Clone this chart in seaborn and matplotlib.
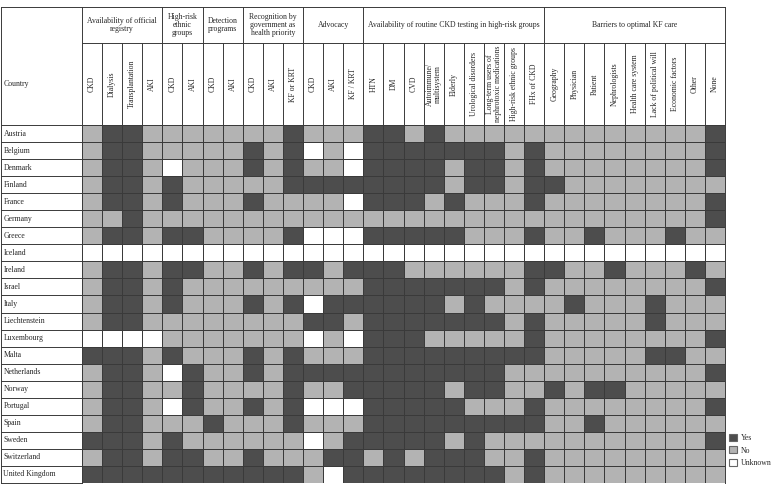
import numpy as np
import pandas as pd
import matplotlib
matplotlib.use("Agg")
import matplotlib.pyplot as plt
from matplotlib.colors import ListedColormap
from matplotlib.patches import Patch
import seaborn as sns

# ---------------- data ----------------
countries = ["Austria", "Belgium", "Denmark", "Finland", "France", "Germany", "Greece",
             "Iceland", "Ireland", "Israel", "Italy", "Liechtenstein", "Luxembourg", "Malta",
             "Netherlands", "Norway", "Portugal", "Spain", "Sweden", "Switzerland",
             "United Kingdom"]

# Y = Yes, N = No, U = Unknown (one string per country, one char per column)
registry = ["NYYN", "NYYN", "NYYN", "NYYN", "NYYN", "NNYN", "NYYN", "UUUU", "NYYN", "NYYN",
            "NYYN", "NYYN", "UUUU", "YYYN", "NYYN", "NYYN", "NYYN", "NYYN", "YYYN", "NYYN",
            "YYYY"]
ethnic = ["NN", "NN", "UN", "YN", "YN", "NN", "YY", "UU", "YY", "YN",
          "YN", "NN", "NN", "YN", "UY", "NY", "UY", "NN", "YN", "YY", "YY"]
detection = ["NN", "NN", "NN", "NN", "NN", "NN", "NN", "UU", "NN", "NN",
             "NN", "NN", "NN", "NN", "NN", "NN", "NN", "YN", "NN", "NN", "YY"]
recognition = ["NNY", "YNY", "YNY", "NNY", "YNN", "NNN", "NNY", "UUU", "YNY", "NNN",
               "YNY", "NNN", "NNN", "YNY", "YNY", "NNY", "YNY", "NNY", "NNN", "YNN", "YYY"]
advocacy = ["NNN", "UNU", "NNU", "YYY", "NNU", "NNN", "UUU", "UUU", "YNY", "NNN",
            "UYY", "YYN", "UNU", "NNN", "YYY", "NNY", "UUU", "NNN", "UNY", "NYY", "NUY"]
testing = ["YYNYNNNNN", "YYYYYYYNY", "YYYYNYYNY", "YYYYNYYNY", "YYYNYNNNY", "NNNNNNNNN",
           "YYYYYNNNY", "UUUUUUUUU", "YYNNNNNNY", "YYYYYYYNY", "YYYYNYNNN", "YYYYYYYNY",
           "YYYNNNNNY", "YYYYYYYYY", "YYYYYYYNN", "YYYYNYYNN", "YYYYYNNNY", "YYYYYYYYY",
           "YYYYNYNNN", "NYNYYYNNY", "YYYYYYYNY"]
barriers = ["NNNNNNNNY", "NNNNNNNNY", "NNNNNNNNY", "YNNNNNNNN", "NNNNNNNNY", "NNNNNNNNY",
            "NNYNNNYNN", "UUUUUUUUU", "YNNYNNNYN", "NNNNNNNNY", "NYNNNYNNN", "NNNNNYNNN",
            "NNNNNNNNY", "NNNNNYYNN", "NNNNNNNNY", "YNYYNNNNN", "NNNNNNNNY", "NNYNNNNNN",
            "NNNNNNNNY", "NNNNNNNNN", "NNNNNNNNN"]

group_titles = ["Availability of official\nregistry", "High-risk\nethnic\ngroups",
                "Detection\nprograms", "Recognition by\ngovernment as\nhealth priority",
                "Advocacy", "Availability of routine CKD testing in high-risk groups",
                "Barriers to optimal KF care"]
registry_cols = ["CKD", "Dialysis", "Transplantation", "AKI"]
ethnic_cols = ["CKD", "AKI"]
detection_cols = ["CKD", "AKI"]
recognition_cols = ["CKD", "AKI", "KF or KRT"]
advocacy_cols = ["CKD", "AKI", "KF / KRT"]
testing_cols = ["HTN", "DM", "CVD", "Autoimmune/\nmultisystem", "Elderly",
                "Urological disorders", "Long-term users of\nnephrotoxic medications",
                "High-risk ethnic groups", "FHx of CKD"]
barriers_cols = ["Geography", "Physician", "Patient", "Nephrologists", "Health care system",
                 "Lack of political will", "Economic factors", "Other", "None"]
legend_labels = ["Yes", "No", "Unknown"]

# ---------------- build table ----------------
groups = [registry, ethnic, detection, recognition, advocacy, testing, barriers]
group_cols = [registry_cols, ethnic_cols, detection_cols, recognition_cols,
              advocacy_cols, testing_cols, barriers_cols]
code = {"Y": 0, "N": 1, "U": 2}
rows = []
for i in range(len(countries)):
    s = "".join(g[i] for g in groups)
    rows.append([code[c] for c in s])
col_names = [f"{t}|{c}" for t, cols in zip(group_titles, group_cols) for c in cols]
df = pd.DataFrame(rows, index=countries, columns=col_names)

# ---------------- style ----------------
sns.set_theme(style="white")
plt.rcParams["font.family"] = ["Liberation Serif", "DejaVu Serif"]
FS = 5.6
LC = "#3a3a3a"
LW = 0.7
colors = ["#4d4d4d", "#b3b3b3", "#ffffff"]

W, H = 777, 484
fig = plt.figure(figsize=(W / 100, H / 100), dpi=100)
gx0, gx1, gy0, gy1 = 82, 725, 125, 483
ax = fig.add_axes([gx0 / W, (H - gy1) / H, (gx1 - gx0) / W, (gy1 - gy0) / H])
sns.heatmap(df, ax=ax, cmap=ListedColormap(colors), vmin=-0.5, vmax=2.5, cbar=False,
            linewidths=LW, linecolor=LC, xticklabels=False, yticklabels=False)
ax.set_xlabel("")
ax.set_ylabel("")
ax.tick_params(left=False, bottom=False)

ncol, nrow = df.shape[1], df.shape[0]
cw = (gx1 - gx0) / ncol
rh = (gy1 - gy0) / nrow


def dx(px):
    return (px - gx0) / cw


def dy(py):
    return (py - gy0) / rh


y_top, y_mid = dy(7), dy(43)
x_left = dx(1)
kw = dict(color=LC, lw=LW, clip_on=False, solid_capstyle="projecting")

# frame and header lines
ax.plot([x_left, ncol], [y_top, y_top], **kw)
ax.plot([0, ncol], [y_mid, y_mid], **kw)
ax.plot([x_left, 0], [0, 0], **kw)
ax.plot([x_left, x_left], [y_top, nrow], **kw)
ax.plot([0, 0], [y_top, nrow], **kw)
ax.plot([ncol, ncol], [y_top, nrow], **kw)
for r in range(1, nrow + 1):
    ax.plot([x_left, 0], [r, r], **kw)

bounds = np.cumsum([0] + [len(c) for c in group_cols])
for b in bounds[1:-1]:
    ax.plot([b, b], [y_top, 0], **kw)
for k in range(1, ncol):
    if k not in bounds:
        ax.plot([k, k], [y_mid, 0], **kw)

# header text
for t, a, b in zip(group_titles, bounds[:-1], bounds[1:]):
    ax.text((a + b) / 2, (y_top + y_mid) / 2, t, ha="center", va="center",
            fontsize=FS, linespacing=1.05, clip_on=False)
j = 0
for cols in group_cols:
    for c in cols:
        ax.text(j + 0.5, y_mid / 2, c, rotation=90, ha="center", va="center",
                fontsize=FS, linespacing=1.0, rotation_mode="anchor", clip_on=False)
        j += 1

ax.text(dx(3.5), (y_top + 0) / 2 + 0.0 if False else dy(84), "Country", ha="left",
        va="center", fontsize=FS, clip_on=False)
for i, c in enumerate(countries):
    ax.text(dx(3.5), i + 0.5, c, ha="left", va="center", fontsize=FS, clip_on=False)

# legend
handles = [Patch(facecolor=col, edgecolor="#666666", lw=0.8) for col in colors]
fig.legend(handles, legend_labels, loc="upper left", bbox_to_anchor=(729 / W, (H - 434) / H),
           frameon=False, fontsize=FS, handlelength=1.0, handleheight=1.0,
           handletextpad=0.5, labelspacing=0.55, borderpad=0, borderaxespad=0)

fig.savefig("out.png", dpi=100)
